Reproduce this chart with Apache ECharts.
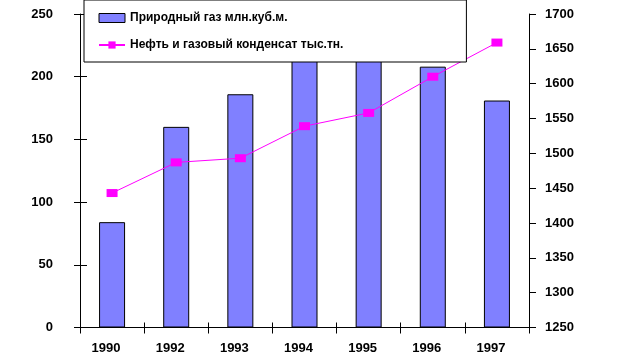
<!DOCTYPE html>
<html><head><meta charset="utf-8">
<script src="https://cdn.jsdelivr.net/npm/echarts@6/dist/echarts.min.js"></script>
<style>html,body{margin:0;padding:0;background:#fff}#c{width:622px;height:364px}</style>
</head><body><div id="c"></div>
<script>
var years = ['1990','1992','1993','1994','1995','1996','1997'];
var gasValues = [84, 160, 186, 232, 228, 208, 181];
var oilValues = [1443, 1487, 1493, 1539, 1558, 1610, 1659];
var leftTicks = [0, 250, 50];
var rightTicks = [1250, 1700, 50];
var gasName = 'Природный газ млн.куб.м.';
var oilName = 'Нефть и газовый конденсат тыс.тн.';

var font = 'Arial, "Liberation Sans", sans-serif';
var chart = echarts.init(document.getElementById('c'));
chart.setOption({
  animation: false,
  backgroundColor: '#fff',
  textStyle: {fontFamily: font},
  grid: {left: 80, right: 93, top: 14, bottom: 36.5},
  legend: {
    orient: 'vertical', left: 84, top: 0,
    padding: [12, 123, 11, 14],
    itemGap: 15,
    itemWidth: 26, itemHeight: 9,
    backgroundColor: '#fff', borderColor: '#000', borderWidth: 1,
    textStyle: {fontFamily: font, fontWeight: 'bold', fontSize: 12, color: '#000'},
    z: 10,
    data: [
      {name: gasName, icon: 'rect', itemStyle: {color: '#8080FF', borderColor: '#000', borderWidth: 1}},
      {name: oilName}
    ]
  },
  xAxis: [{
    type: 'category', data: years,
    axisLine: {lineStyle: {color: '#000', width: 1}},
    axisTick: {show: true, length: 6, lineStyle: {color: '#000'}},
    axisLabel: {color: '#000', fontWeight: 'bold', fontSize: 13, fontFamily: font, margin: 14, padding: [0, 12, 0, 0]}
  }, {
    type: 'category', data: years, position: 'bottom',
    axisLine: {show: false},
    axisTick: {show: true, inside: true, length: 5, lineStyle: {color: '#000'}},
    axisLabel: {show: false}
  }],
  yAxis: [{
    type: 'value', min: leftTicks[0], max: leftTicks[1], interval: leftTicks[2],
    position: 'left',
    axisLine: {show: true, lineStyle: {color: '#000', width: 1}},
    axisTick: {show: true, length: 6, lineStyle: {color: '#000'}},
    splitLine: {show: false},
    axisLabel: {color: '#000', fontWeight: 'bold', fontSize: 13, fontFamily: font, margin: 27}
  }, {
    type: 'value', min: rightTicks[0], max: rightTicks[1], interval: rightTicks[2],
    position: 'right',
    axisLine: {show: true, lineStyle: {color: '#000', width: 1}},
    axisTick: {show: true, length: 7, lineStyle: {color: '#000'}},
    splitLine: {show: false},
    axisLabel: {color: '#000', fontWeight: 'bold', fontSize: 13, fontFamily: font, margin: 16,
      formatter: function (v) { return String(v); }}
  }, {
    type: 'value', min: leftTicks[0], max: leftTicks[1], interval: leftTicks[2],
    position: 'left',
    axisLine: {show: false},
    axisTick: {show: true, inside: true, length: 7, lineStyle: {color: '#000'}},
    splitLine: {show: false},
    axisLabel: {show: false}
  }],
  series: [{
    name: gasName, type: 'bar', data: gasValues,
    barWidth: 26,
    itemStyle: {color: '#8080FF', borderColor: '#000', borderWidth: 1},
    z: 2
  }, {
    name: oilName, type: 'line', yAxisIndex: 1, data: oilValues,
    symbol: 'rect', symbolSize: [11, 8],
    lineStyle: {color: '#FF00FF', width: 1},
    itemStyle: {color: '#FF00FF'},
    z: 3
  }]
});
</script></body></html>
